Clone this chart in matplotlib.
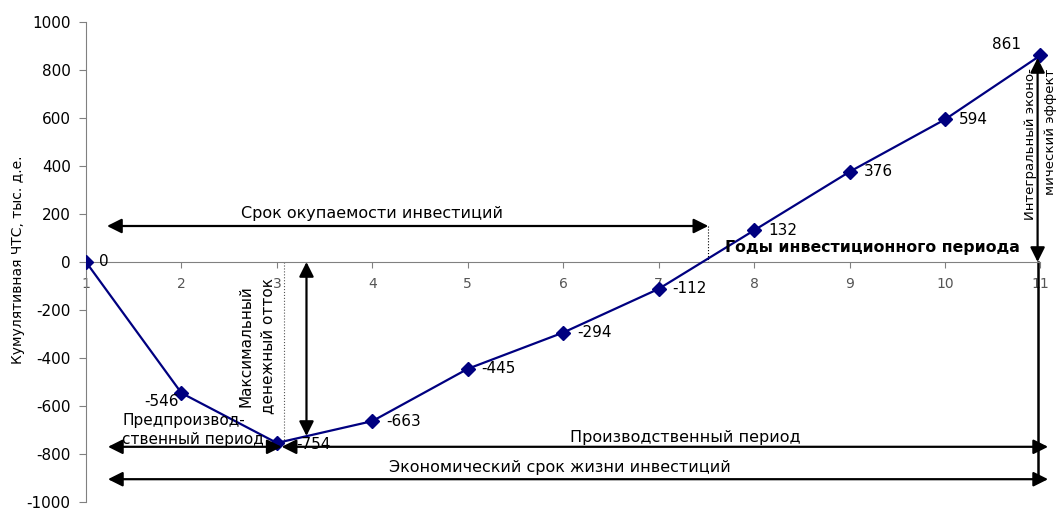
import matplotlib.pyplot as plt

plt.rcParams['font.family'] = ['DejaVu Sans']
plt.rcParams['axes.unicode_minus'] = False

years = [1, 2, 3, 4, 5, 6, 7, 8, 9, 10, 11]
npv = [0, -546, -754, -663, -445, -294, -112, 132, 376, 594, 861]
yticks = [-1000, -800, -600, -400, -200, 0, 200, 400, 600, 800, 1000]

payback = 7.52
# offsets of the value labels (points)
offs = {1: (9, 0, 'left'), 2: (-2, -6, 'right'), 3: (14, -1, 'left'), 11: (-14, 8, 'right')}

fig = plt.figure(figsize=(10.58, 5.09), dpi=100)
ax = fig.add_axes([86 / 1058, 7 / 509, 964 / 1058, 480 / 509])

ax.plot(years, npv, color='#000080', lw=1.6, marker='D', ms=7, zorder=3)

for x, v in zip(years, npv):
    dx, dy, ha = offs.get(x, (10, 0, 'left'))
    ax.annotate(str(v), (x, v), xytext=(dx, dy), textcoords='offset points',
                ha=ha, va='center', fontsize=11, zorder=4)

ax.set_xlim(1, 11.1)
ax.set_ylim(-1000, 1000)
ax.set_yticks(yticks)
ax.set_xticks(years)
ax.spines['top'].set_visible(False)
ax.spines['right'].set_visible(False)
ax.spines['left'].set_color('#808080')
ax.spines['bottom'].set_color('#808080')
ax.spines['bottom'].set_position(('data', 0))
ax.spines['bottom'].set_bounds(1, 11)
ax.tick_params(axis='y', direction='out', length=5, color='#808080', labelsize=11, pad=6)
ax.tick_params(axis='x', direction='out', length=4, color='#808080', labelsize=10,
               labelcolor='#555555', pad=7)
fig.text(18 / 1058, 1 - 260 / 509, 'Кумулятивная ЧТС, тыс. д.е.', rotation=90,
         ha='center', va='center', fontsize=10)

arrow = dict(arrowstyle='<|-|>', mutation_scale=22, color='black', lw=1.6,
             shrinkA=0, shrinkB=0)

# срок окупаемости
ax.annotate('', xy=(payback, 150), xytext=(1.22, 150), arrowprops=arrow)
ax.plot([payback, payback], [150, 0], color='black', lw=0.8, ls=':')
ax.text(4.0, 170, 'Срок окупаемости инвестиций', ha='center', va='bottom', fontsize=11.5)

# максимальный денежный отток
ax.plot([3.07, 3.07], [0, -754], color='#555555', lw=0.8, ls=':')
ax.annotate('', xy=(3.31, -725), xytext=(3.31, 0), arrowprops=arrow)
ax.text(2.79, -350, 'Максимальный\nденежный отток', rotation=90, ha='center', va='center',
        fontsize=11, linespacing=1.55)

# периоды
ax.annotate('', xy=(3.05, -770), xytext=(1.23, -770), arrowprops=arrow)
ax.annotate('', xy=(11.08, -770), xytext=(3.05, -770), arrowprops=arrow)
ax.annotate('', xy=(11.08, -905), xytext=(1.23, -905), arrowprops=arrow)
ax.text(1.38, -700, 'Предпроизвод-\nственный период', ha='left', va='center', fontsize=11,
        linespacing=1.3)
ax.text(7.28, -730, 'Производственный период', ha='center', va='center', fontsize=11.5)
ax.text(5.96, -855, 'Экономический срок жизни инвестиций', ha='center', va='center',
        fontsize=11.5)

# интегральный эффект
ax.annotate('', xy=(10.97, 850), xytext=(10.97, 0), arrowprops=arrow)
ax.plot([10.97, 10.97], [0, -905], color='black', lw=1.8)
ax.text(11.0, 490, 'Интегральный эконо-\nмический эффект', rotation=90, ha='center',
        va='center', fontsize=9.5, multialignment='right', linespacing=1.75)

ax.text(10.78, 62, 'Годы инвестиционного периода', ha='right', va='center',
        fontsize=11.3, fontweight='bold')

plt.savefig('out.png', dpi=100)
